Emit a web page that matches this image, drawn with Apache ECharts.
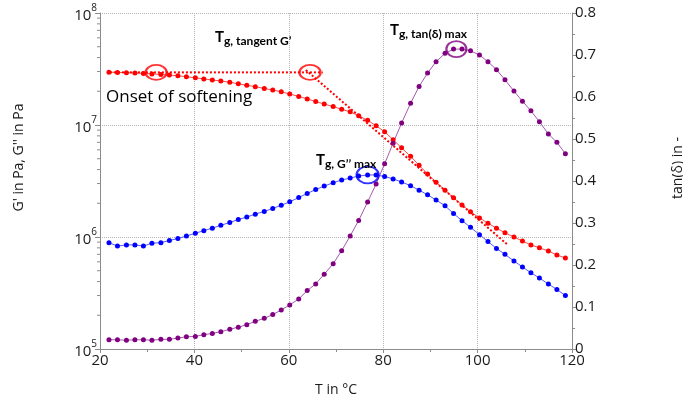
<!DOCTYPE html>
<html>
<head>
<meta charset="utf-8">
<script src="https://cdn.jsdelivr.net/npm/echarts@6/dist/echarts.min.js"></script>
<style>
  html, body { margin: 0; padding: 0; background: #fff; }
  #chart { width: 683px; height: 402px; }
</style>
</head>
<body>
<div id="chart"></div>
<script>
// temperature of each measuring point, °C
var temps = [21.9, 23.7, 25.6, 27.4, 29.2, 31.0, 32.9, 34.7, 36.5, 38.3,
  40.2, 42.0, 43.8, 45.6, 47.5, 49.3, 51.1, 52.9, 54.8, 56.6,
  58.4, 60.2, 62.1, 63.9, 65.7, 67.5, 69.4, 71.2, 73.0, 74.8,
  76.7, 78.5, 80.3, 82.1, 83.9, 85.8, 87.6, 89.4, 91.2, 93.1,
  94.9, 96.7, 98.5, 100.4, 102.2, 104.0, 105.8, 107.7, 109.5, 111.3,
  113.1, 115.0, 116.8, 118.6];

// storage modulus G' in Pa
var gPrime = [2.96e7, 2.95e7, 2.93e7, 2.91e7, 2.89e7, 2.86e7, 2.83e7, 2.79e7, 2.75e7, 2.70e7,
  2.64e7, 2.58e7, 2.52e7, 2.47e7, 2.41e7, 2.33e7, 2.26e7, 2.20e7, 2.12e7, 2.05e7,
  1.98e7, 1.89e7, 1.80e7, 1.71e7, 1.62e7, 1.54e7, 1.46e7, 1.38e7, 1.31e7, 1.21e7,
  1.10e7, 9.85e6, 8.7e6, 7.4e6, 6.25e6, 5.25e6, 4.37e6, 3.66e6, 3.08e6, 2.62e6,
  2.24e6, 1.93e6, 1.68e6, 1.48e6, 1.33e6, 1.20e6, 1.09e6, 1.00e6, 9.2e5, 8.5e5,
  8.0e5, 7.5e5, 6.9e5, 6.5e5];

// loss modulus G'' in Pa
var gDoublePrime = [8.9e5, 8.3e5, 8.5e5, 8.5e5, 8.3e5, 8.8e5, 8.9e5, 9.3e5, 9.7e5, 1.02e6,
  1.08e6, 1.14e6, 1.20e6, 1.27e6, 1.35e6, 1.43e6, 1.51e6, 1.60e6, 1.69e6, 1.80e6,
  1.92e6, 2.06e6, 2.25e6, 2.45e6, 2.65e6, 2.85e6, 3.05e6, 3.23e6, 3.36e6, 3.50e6,
  3.58e6, 3.58e6, 3.47e6, 3.30e6, 3.10e6, 2.87e6, 2.62e6, 2.38e6, 2.14e6, 1.90e6,
  1.62e6, 1.40e6, 1.22e6, 1.05e6, 9.1e5, 7.9e5, 7.0e5, 6.1e5, 5.4e5, 4.8e5,
  4.3e5, 3.8e5, 3.4e5, 3.0e5];

// loss factor tan(delta)
var tanDelta = [0.022, 0.022, 0.021, 0.022, 0.022, 0.021, 0.023, 0.023, 0.026, 0.029,
  0.030, 0.034, 0.037, 0.041, 0.047, 0.052, 0.058, 0.066, 0.073, 0.082,
  0.093, 0.105, 0.119, 0.139, 0.155, 0.178, 0.203, 0.234, 0.269, 0.306,
  0.350, 0.393, 0.441, 0.490, 0.538, 0.585, 0.625, 0.657, 0.684, 0.704,
  0.714, 0.714, 0.710, 0.700, 0.684, 0.665, 0.641, 0.614, 0.590, 0.567,
  0.541, 0.512, 0.492, 0.465];

// construction lines for the tangent method [T, G']
var plateauLine = [[22.1, 2.95e7], [67.2, 2.95e7]];
var tangentLine = [[63.6, 3.1e7], [106.4, 8.5e5]];

// circled points [T, value]
var onsetCircle = [[31.9, 2.95e7]];
var tangentCircle = [[64.5, 2.95e7]];
var gDoublePrimeMaxCircle = [[76.7, 3.58e6]];
var tanDeltaMaxCircle = [[95.5, 0.714]];

// minor ticks on the log axis
var logMinorTicks = [2e5, 3e5, 4e5, 5e5, 6e5, 7e5, 8e5, 9e5,
  2e6, 3e6, 4e6, 5e6, 6e6, 7e6, 8e6, 9e6,
  2e7, 3e7, 4e7, 5e7, 6e7, 7e7, 8e7, 9e7];

var RED = '#ff0000';
var BLUE = '#0000ff';
var PURPLE = '#800080';
var AXIS_GREY = '#8c8c8c';
var FONT = 'Open Sans';

function pairs(ys) {
  return temps.map(function (t, i) { return [t, ys[i]]; });
}

// bold "T" with a bold subscript next to it, placed at the cap top of the T
function tgLabel(x, y, sub) {
  return [
    {
      type: 'text', x: x, y: y - 1, z: 10,
      style: { text: 'T', fontFamily: 'Lato', fontSize: 15, fontWeight: 'bold', fill: '#000' }
    },
    {
      type: 'text', x: x + 9, y: y + 4, z: 10,
      style: { text: sub, fontFamily: 'Lato', fontSize: 12, fontWeight: 'bold', fill: '#000' }
    }
  ];
}

var dom = document.getElementById('chart');
var myChart = echarts.init(dom, null, { renderer: 'canvas' });

var tickFont = { fontFamily: FONT, fontSize: 15, color: '#1a1a1a' };
var nameFont = { fontFamily: FONT, fontSize: 14, color: '#1a1a1a' };

var option = {
  animation: false,
  backgroundColor: '#fff',
  grid: { left: 100, right: 111, top: 13, bottom: 53, outerBoundsMode: 'none' },
  xAxis: {
    type: 'value',
    min: 20,
    max: 120,
    interval: 20,
    name: 'T in °C',
    nameLocation: 'middle',
    nameGap: 34,
    nameTextStyle: nameFont,
    axisLine: { show: true, lineStyle: { color: AXIS_GREY } },
    axisTick: { show: true, length: 4, lineStyle: { color: AXIS_GREY } },
    minorTick: { show: true, splitNumber: 2, length: 3, lineStyle: { color: AXIS_GREY } },
    axisLabel: Object.assign({ margin: 4 }, tickFont),
    splitLine: { show: true, lineStyle: { color: '#b4b4b4', type: 'dotted' } }
  },
  yAxis: [
    {
      type: 'log',
      logBase: 10,
      min: 1e5,
      max: 1e8,
      position: 'left',
      name: "G' in Pa, G'' in Pa",
      nameLocation: 'middle',
      nameGap: 74,
      nameTextStyle: Object.assign({ padding: [0, 0, 0, 47] }, nameFont),
      axisLine: { show: true, lineStyle: { color: AXIS_GREY } },
      axisTick: { show: true, length: 5, lineStyle: { color: AXIS_GREY } },
      axisLabel: {
        margin: 3,
        formatter: function (v) {
          return '{b|10}{e|' + Math.round(Math.log10(v)) + '}';
        },
        rich: {
          b: { fontFamily: FONT, fontSize: 15, color: '#1a1a1a', lineHeight: 20, verticalAlign: 'bottom' },
          e: { fontFamily: FONT, fontSize: 10, color: '#1a1a1a', lineHeight: 20, verticalAlign: 'top' }
        }
      },
      splitLine: { show: true, lineStyle: { color: '#b4b4b4', type: 'dotted' } }
    },
    {
      type: 'value',
      min: 0,
      max: 0.8,
      interval: 0.1,
      position: 'right',
      name: 'tan(δ) in -',
      nameLocation: 'middle',
      nameGap: 99,
      nameTextStyle: Object.assign({ padding: [0, 0, 0, 26] }, nameFont),
      axisLine: { show: true, lineStyle: { color: AXIS_GREY } },
      axisTick: { show: true, length: 4, lineStyle: { color: AXIS_GREY } },
      minorTick: { show: true, splitNumber: 2, length: 3, lineStyle: { color: AXIS_GREY } },
      axisLabel: Object.assign({
        margin: 3,
        formatter: function (v) { return v === 0 ? '0' : v.toFixed(1); }
      }, tickFont),
      splitLine: { show: false }
    }
  ],
  series: [
    {
      name: 'log minor ticks',
      type: 'custom',
      clip: false,
      silent: true,
      yAxisIndex: 0,
      data: logMinorTicks.map(function (v) { return [20, v]; }),
      renderItem: function (params, api) {
        var p = api.coord([api.value(0), api.value(1)]);
        return {
          type: 'line',
          shape: { x1: p[0] - 3, y1: p[1], x2: p[0], y2: p[1] },
          style: { stroke: AXIS_GREY, lineWidth: 1 }
        };
      }
    },
    {
      name: "G'",
      type: 'line',
      yAxisIndex: 0,
      data: pairs(gPrime),
      symbol: 'circle',
      symbolSize: 5,
      itemStyle: { color: RED },
      lineStyle: { color: '#ff4d4d', width: 1 },
      silent: true
    },
    {
      name: "G''",
      type: 'line',
      yAxisIndex: 0,
      data: pairs(gDoublePrime),
      symbol: 'circle',
      symbolSize: 5,
      itemStyle: { color: BLUE },
      lineStyle: { color: '#5a5aff', width: 1 },
      silent: true
    },
    {
      name: 'tan(δ)',
      type: 'line',
      yAxisIndex: 1,
      data: pairs(tanDelta),
      symbol: 'circle',
      symbolSize: 5,
      itemStyle: { color: PURPLE },
      lineStyle: { color: '#a65ab0', width: 1 },
      silent: true
    },
    {
      name: 'plateau',
      type: 'line',
      yAxisIndex: 0,
      data: plateauLine,
      symbol: 'none',
      lineStyle: { color: RED, width: 2, type: 'dotted' },
      silent: true
    },
    {
      name: 'tangent',
      type: 'line',
      yAxisIndex: 0,
      data: tangentLine,
      symbol: 'none',
      lineStyle: { color: RED, width: 2, type: 'dotted' },
      silent: true
    },
    {
      name: 'onset circle',
      type: 'scatter',
      yAxisIndex: 0,
      data: onsetCircle.concat(tangentCircle),
      symbol: 'circle',
      symbolSize: [21, 15],
      itemStyle: { color: 'rgba(0,0,0,0)', borderColor: RED, borderWidth: 2 },
      silent: true,
      z: 5
    },
    {
      name: 'G\'\' max circle',
      type: 'scatter',
      yAxisIndex: 0,
      data: gDoublePrimeMaxCircle,
      symbol: 'circle',
      symbolSize: [22, 17],
      itemStyle: { color: 'rgba(0,0,0,0)', borderColor: BLUE, borderWidth: 2 },
      silent: true,
      z: 5
    },
    {
      name: 'tan max circle',
      type: 'scatter',
      yAxisIndex: 1,
      data: tanDeltaMaxCircle,
      symbol: 'circle',
      symbolSize: [20, 16],
      itemStyle: { color: 'rgba(0,0,0,0)', borderColor: PURPLE, borderWidth: 2 },
      silent: true,
      z: 5
    }
  ],
  graphic: [
    {
      type: 'text', x: 106, y: 89, z: 10,
      style: { text: 'Onset of softening', fontFamily: FONT, fontSize: 17, fill: '#000' }
    }
  ]
    .concat(tgLabel(215, 31, 'g, tangent G’'))
    .concat(tgLabel(390, 24, 'g, tan(δ) max'))
    .concat(tgLabel(316, 154, 'g, G’’ max'))
};

if (option && typeof option === 'object') {
  myChart.setOption(option);
}

window.addEventListener('resize', myChart.resize);
</script>
</body>
</html>
